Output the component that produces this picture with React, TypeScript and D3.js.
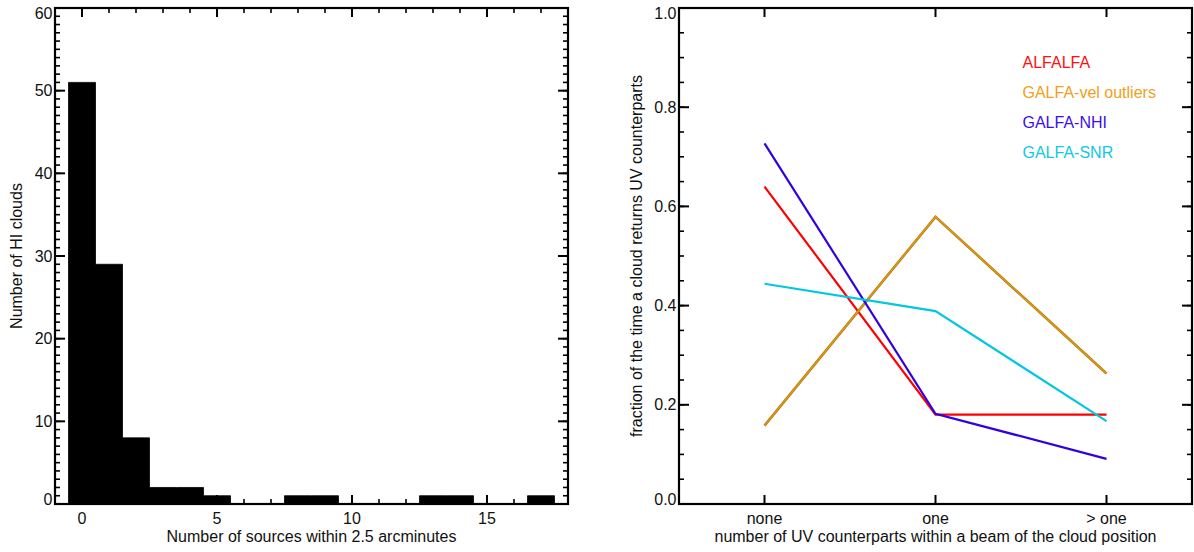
import React from "react";
import * as d3 from "d3";

// Left panel: histogram of number of sources within 2.5 arcminutes
const binCenters = [0, 1, 2, 3, 4, 5, 6, 7, 8, 9, 10, 11, 12, 13, 14, 15, 16, 17];
const binCounts = [51, 29, 8, 2, 2, 1, 0, 0, 1, 1, 0, 0, 0, 1, 1, 0, 0, 1];
const histXTicks = [0, 5, 10, 15];
const histYTicks = [0, 10, 20, 30, 40, 50, 60];

// Right panel: fractions
const categories = ["none", "one", "> one"];
const alfalfa = [0.64, 0.18, 0.18];
const galfaVel = [0.158, 0.579, 0.263];
const galfaNHI = [0.727, 0.182, 0.091];
const galfaSNR = [0.444, 0.389, 0.167];
const fracYTicks = [0, 0.2, 0.4, 0.6, 0.8, 1.0];

const seriesNames = ["ALFALFA", "GALFA-vel outliers", "GALFA-NHI", "GALFA-SNR"];
const seriesColors = ["#ff0000", "#d8940c", "#3300e0", "#00c8e0"];
const legendColors = ["#ff1010", "#f0a020", "#3a10e8", "#10c8e0"];

const FONT = "'Liberation Sans', Arial, Helvetica, sans-serif";
const TXT = "#111";
const FS = 16;

const L = { x0: 55, x1: 568, y0: 8, y1: 504 };
const R = { x0: 679, x1: 1192, y0: 8, y1: 504 };

function App() {
  const hx = d3.scaleLinear().domain([-1, 18]).range([L.x0, L.x1]);
  const hy = d3.scaleLinear().domain([0, 60]).range([L.y1, L.y0]);
  const rx = d3.scaleLinear().domain([-0.5, 2.5]).range([R.x0, R.x1]);
  const ry = d3.scaleLinear().domain([0, 1]).range([R.y1, R.y0]);

  const hMinorX = d3.range(-1, 19, 1);
  const hMinorY = d3.range(0, 61, 1);
  const rMinorY = d3.range(0, 1.0001, 0.05);

  // step outline of the histogram
  const stepPts: [number, number][] = [];
  binCenters.forEach((c, i) => {
    stepPts.push([c - 0.5, binCounts[i]]);
    stepPts.push([c + 0.5, binCounts[i]]);
  });
  const histArea = d3
    .area<[number, number]>()
    .x((d) => hx(d[0]))
    .y0(hy(0))
    .y1((d) => hy(d[1]))(stepPts) as string;

  const line = (vals: number[]) =>
    d3
      .line<number>()
      .x((_, i) => rx(i))
      .y((v) => ry(v))(vals) as string;

  const allSeries = [alfalfa, galfaVel, galfaNHI, galfaSNR];

  const yLabelDy = (i: number, n: number) => (i === 0 ? -4.5 : i === n - 1 ? 5 : 0);

  return (
    <svg
      width={1194}
      height={552}
      style={{ position: "absolute", left: 0, top: 0, background: "#fff" }}
      fontFamily={FONT}
    >
      <rect x={0} y={0} width={1194} height={552} fill="#fff" />
      {/* ---------- LEFT PANEL ---------- */}
      <g>
        <path d={histArea} fill="#000" stroke="#000" strokeWidth={0.8} />
        {/* minor ticks */}
        {hMinorY.map((v) => (
          <g key={"hmy" + v} stroke="#000" strokeWidth={1.6}>
            <line x1={L.x0} x2={L.x0 + 5} y1={hy(v)} y2={hy(v)} />
            <line x1={L.x1} x2={L.x1 - 5} y1={hy(v)} y2={hy(v)} />
          </g>
        ))}
        {hMinorX.map((v) => (
          <g key={"hmx" + v} stroke="#000" strokeWidth={1.6}>
            <line x1={hx(v)} x2={hx(v)} y1={L.y1} y2={L.y1 - 5} />
            <line x1={hx(v)} x2={hx(v)} y1={L.y0} y2={L.y0 + 5} />
          </g>
        ))}
        {histYTicks.map((v) => (
          <g key={"hy" + v} stroke="#000" strokeWidth={2}>
            <line x1={L.x0} x2={L.x0 + 10} y1={hy(v)} y2={hy(v)} />
            <line x1={L.x1} x2={L.x1 - 10} y1={hy(v)} y2={hy(v)} />
          </g>
        ))}
        {histXTicks.map((v) => (
          <g key={"hx" + v} stroke="#000" strokeWidth={2}>
            <line x1={hx(v)} x2={hx(v)} y1={L.y1} y2={L.y1 - 9} />
            <line x1={hx(v)} x2={hx(v)} y1={L.y0} y2={L.y0 + 9} />
          </g>
        ))}
        <rect
          x={L.x0}
          y={L.y0}
          width={L.x1 - L.x0}
          height={L.y1 - L.y0}
          fill="none"
          stroke="#000"
          strokeWidth={2.2}
        />
        {histYTicks.map((v, i) => (
          <text
            key={"hyl" + v}
            x={L.x0 - 2.5}
            y={hy(v) + 5.5 + yLabelDy(i, histYTicks.length)}
            textAnchor="end"
            fontSize={FS}
            fill={TXT}
          >
            {v}
          </text>
        ))}
        {histXTicks.map((v) => (
          <text key={"hxl" + v} x={hx(v)} y={523.5} textAnchor="middle" fontSize={FS} fill={TXT}>
            {v}
          </text>
        ))}
        <text x={(L.x0 + L.x1) / 2} y={542} textAnchor="middle" fontSize={FS} fill={TXT}>
          Number of sources within 2.5 arcminutes
        </text>
        <text
          transform={`translate(21.5, ${(L.y0 + L.y1) / 2}) rotate(-90)`}
          textAnchor="middle"
          fontSize={FS}
          fill={TXT}
        >
          Number of HI clouds
        </text>
      </g>

      {/* ---------- RIGHT PANEL ---------- */}
      <g>
        {rMinorY.map((v, i) => (
          <g key={"rmy" + i} stroke="#000" strokeWidth={1.6}>
            <line x1={R.x0} x2={R.x0 + 5} y1={ry(v)} y2={ry(v)} />
            <line x1={R.x1} x2={R.x1 - 5} y1={ry(v)} y2={ry(v)} />
          </g>
        ))}
        {fracYTicks.map((v) => (
          <g key={"ry" + v} stroke="#000" strokeWidth={2}>
            <line x1={R.x0} x2={R.x0 + 10} y1={ry(v)} y2={ry(v)} />
            <line x1={R.x1} x2={R.x1 - 10} y1={ry(v)} y2={ry(v)} />
          </g>
        ))}
        {categories.map((c, i) => (
          <g key={"rx" + c} stroke="#000" strokeWidth={2}>
            <line x1={rx(i)} x2={rx(i)} y1={R.y1} y2={R.y1 - 9} />
            <line x1={rx(i)} x2={rx(i)} y1={R.y0} y2={R.y0 + 9} />
          </g>
        ))}
        <rect
          x={R.x0}
          y={R.y0}
          width={R.x1 - R.x0}
          height={R.y1 - R.y0}
          fill="none"
          stroke="#000"
          strokeWidth={2.2}
        />
        {/* series lines */}
        {allSeries.map((s, i) =>
          i === 1 ? (
            <g key={"s" + i}>
              <path d={line(s)} fill="none" stroke="#a87810" strokeWidth={2.6} />
              <path d={line(s)} fill="none" stroke="#e89a10" strokeWidth={1.3} />
            </g>
          ) : (
            <path key={"s" + i} d={line(s)} fill="none" stroke={seriesColors[i]} strokeWidth={2.2} />
          )
        )}
        {fracYTicks.map((v, i) => (
          <text
            key={"ryl" + v}
            x={R.x0 - 2.5}
            y={ry(v) + 5.5 + yLabelDy(i, fracYTicks.length)}
            textAnchor="end"
            fontSize={FS}
            fill={TXT}
          >
            {v.toFixed(1)}
          </text>
        ))}
        {categories.map((c, i) => (
          <text key={"rxl" + c} x={rx(i)} y={523.5} textAnchor="middle" fontSize={FS} fill={TXT}>
            {c}
          </text>
        ))}
        <text x={(R.x0 + R.x1) / 2} y={542} textAnchor="middle" fontSize={FS} fill={TXT}>
          number of UV counterparts within a beam of the cloud position
        </text>
        <text
          transform={`translate(641.5, ${(R.y0 + R.y1) / 2}) rotate(-90)`}
          textAnchor="middle"
          fontSize={FS}
          fill={TXT}
        >
          fraction of the time a cloud returns UV counterparts
        </text>
        {/* legend */}
        {seriesNames.map((n, i) => (
          <text key={"lg" + n} x={1022.5} y={67.5 + i * 30} fontSize={FS} fill={legendColors[i]}>
            {n}
          </text>
        ))}
      </g>
    </svg>
  );
}

export default App;
